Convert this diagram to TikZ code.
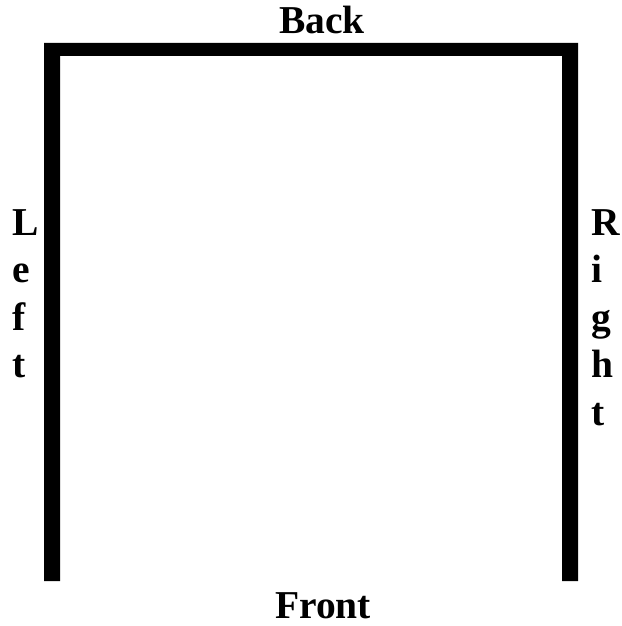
\documentclass[tikz,border=0pt]{standalone}
\usepackage{fontspec}
\setmainfont{Liberation Serif}
\usetikzlibrary{positioning}
\tikzset{
  % etichette dei lati
  side/.style={inner sep=0pt,font=\fontsize{39.5}{47.5}\selectfont\bfseries},
  side vert/.style={side,align=left,anchor=north west},
  wall/.style={fill=black}
}
\begin{document}
\begin{tikzpicture}[x=1pt,y=-1pt]
    \useasboundingbox (0,0) rectangle (621,626);
    % pareti
    \fill[wall] (44,581) -- (44,43) -- (578,43) -- (578,581) -- (562,581)
      -- (562,56) -- (60,56) -- (60,581) -- cycle;
    % lati
    \node[side,anchor=base] (back) at (322,34) {Back};
    \node[side,anchor=base] (front) at (323,618) {Front};
    \node[side vert] (left) at (12,209) {L\\e\\f\\t};
    \node[side vert] (right) at (591,209) {R\\i\\g\\h\\t};
  \end{tikzpicture}
\end{document}
